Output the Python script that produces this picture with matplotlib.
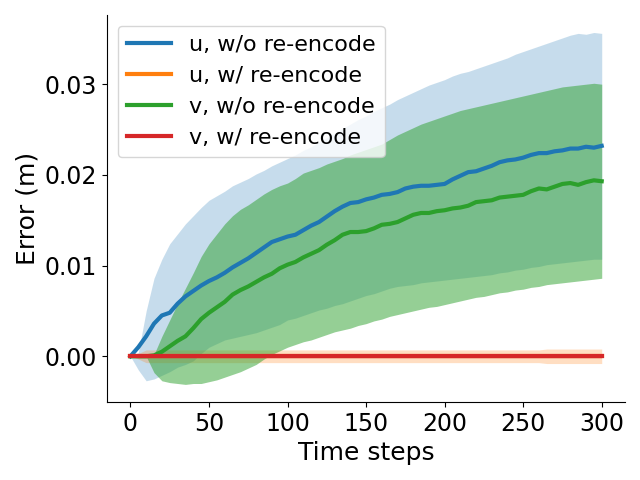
import matplotlib
matplotlib.use("Agg")
import matplotlib.pyplot as plt
import numpy as np

# time axis, one sample every 5 steps
steps = list(range(0, 301, 5))

# u, w/o re-encode (mean and band edges)
u_wo_mean = [0.0000, 0.0010, 0.0022, 0.0036, 0.0045, 0.0048, 0.0058, 0.0066, 0.0072, 0.0078,
             0.0083, 0.0087, 0.0092, 0.0098, 0.0103, 0.0108, 0.0114, 0.0120, 0.0126, 0.0129,
             0.0132, 0.0134, 0.0139, 0.0144, 0.0148, 0.0154, 0.0160, 0.0165, 0.0169, 0.0170,
             0.0173, 0.0175, 0.0178, 0.0179, 0.0181, 0.0185, 0.0187, 0.0188, 0.0188, 0.0189,
             0.0190, 0.0195, 0.0199, 0.0203, 0.0204, 0.0207, 0.0210, 0.0214, 0.0216, 0.0217,
             0.0219, 0.0222, 0.0224, 0.0224, 0.0226, 0.0227, 0.0229, 0.0229, 0.0231, 0.0230,
             0.0232]
u_wo_upper = [0.0000, 0.0004, 0.0050, 0.0086, 0.0107, 0.0124, 0.0135, 0.0146, 0.0155, 0.0164,
              0.0172, 0.0177, 0.0182, 0.0188, 0.0192, 0.0196, 0.0201, 0.0205, 0.0210, 0.0214,
              0.0218, 0.0222, 0.0227, 0.0231, 0.0236, 0.0241, 0.0246, 0.0251, 0.0256, 0.0261,
              0.0265, 0.0270, 0.0274, 0.0278, 0.0283, 0.0287, 0.0291, 0.0295, 0.0299, 0.0302,
              0.0305, 0.0309, 0.0312, 0.0314, 0.0317, 0.0320, 0.0323, 0.0326, 0.0329, 0.0333,
              0.0336, 0.0339, 0.0342, 0.0345, 0.0348, 0.0351, 0.0354, 0.0356, 0.0355, 0.0357,
              0.0356]
u_wo_lower = [0.0000, -0.0015, -0.0027, -0.0025, -0.0021, -0.0017, -0.0012, -0.0009, -0.0005, 0.0003,
              0.0010, 0.0014, 0.0018, 0.0020, 0.0022, 0.0024, 0.0026, 0.0029, 0.0032, 0.0035,
              0.0040, 0.0042, 0.0045, 0.0048, 0.0051, 0.0053, 0.0056, 0.0058, 0.0061, 0.0064,
              0.0067, 0.0069, 0.0072, 0.0075, 0.0077, 0.0078, 0.0079, 0.0081, 0.0082, 0.0083,
              0.0084, 0.0085, 0.0086, 0.0087, 0.0088, 0.0089, 0.0090, 0.0092, 0.0093, 0.0095,
              0.0096, 0.0098, 0.0099, 0.0101, 0.0102, 0.0103, 0.0104, 0.0105, 0.0106, 0.0107,
              0.0107]

# v, w/o re-encode
v_wo_mean = [0.0000, 0.0000, 0.0000, 0.0001, 0.0005, 0.0011, 0.0017, 0.0022, 0.0031, 0.0041,
             0.0048, 0.0054, 0.0060, 0.0068, 0.0073, 0.0077, 0.0082, 0.0087, 0.0091, 0.0097,
             0.0101, 0.0104, 0.0109, 0.0113, 0.0117, 0.0123, 0.0128, 0.0134, 0.0137, 0.0137,
             0.0138, 0.0141, 0.0145, 0.0146, 0.0148, 0.0152, 0.0156, 0.0158, 0.0158, 0.0160,
             0.0161, 0.0163, 0.0164, 0.0166, 0.0170, 0.0171, 0.0172, 0.0175, 0.0176, 0.0177,
             0.0178, 0.0182, 0.0185, 0.0184, 0.0187, 0.0190, 0.0191, 0.0189, 0.0192, 0.0194,
             0.0193]
v_wo_upper = [0.0000, 0.0000, 0.0000, 0.0002, 0.0022, 0.0040, 0.0058, 0.0075, 0.0092, 0.0110,
              0.0124, 0.0135, 0.0146, 0.0155, 0.0162, 0.0167, 0.0173, 0.0179, 0.0184, 0.0188,
              0.0191, 0.0196, 0.0202, 0.0205, 0.0208, 0.0212, 0.0215, 0.0218, 0.0222, 0.0225,
              0.0228, 0.0231, 0.0234, 0.0239, 0.0244, 0.0248, 0.0252, 0.0256, 0.0259, 0.0262,
              0.0265, 0.0268, 0.0271, 0.0273, 0.0275, 0.0277, 0.0279, 0.0281, 0.0283, 0.0285,
              0.0287, 0.0289, 0.0291, 0.0293, 0.0295, 0.0297, 0.0298, 0.0299, 0.0300, 0.0301,
              0.0300]
v_wo_lower = [0.0000, 0.0000, 0.0000, -0.0018, -0.0027, -0.0029, -0.0030, -0.0031, -0.0030, -0.0030,
              -0.0028, -0.0026, -0.0023, -0.0020, -0.0017, -0.0013, -0.0009, -0.0003, 0.0002, 0.0006,
              0.0010, 0.0013, 0.0016, 0.0018, 0.0021, 0.0024, 0.0027, 0.0029, 0.0031, 0.0034,
              0.0036, 0.0039, 0.0041, 0.0044, 0.0046, 0.0048, 0.0050, 0.0052, 0.0054, 0.0055,
              0.0057, 0.0059, 0.0061, 0.0063, 0.0065, 0.0066, 0.0068, 0.0070, 0.0071, 0.0073,
              0.0074, 0.0076, 0.0077, 0.0079, 0.0080, 0.0081, 0.0082, 0.0083, 0.0084, 0.0085,
              0.0086]

# with re-encode: error stays at zero, only a thin spread
u_w_mean = [0.0] * len(steps)
u_w_spread = [0.0, 0.0003] + [0.0007] * 51 + [0.0008] * 8
v_w_mean = [0.0] * len(steps)
v_w_spread = [0.0] + [0.0002] * 60

labels = ["u, w/o re-encode", "u, w/ re-encode", "v, w/o re-encode", "v, w/ re-encode"]

t = np.array(steps)
fig, ax = plt.subplots(figsize=(6.4, 4.8), dpi=100)

ax.plot(t, u_wo_mean, color="tab:blue", lw=3, label=labels[0])
ax.fill_between(t, u_wo_lower, u_wo_upper, color="tab:blue", alpha=0.25, lw=0)

um = np.array(u_w_mean)
us = np.array(u_w_spread)
ax.plot(t, um, color="tab:orange", lw=3, label=labels[1])
ax.fill_between(t, um - us, um + us, color="tab:orange", alpha=0.25, lw=0)

ax.plot(t, v_wo_mean, color="tab:green", lw=3, label=labels[2])
ax.fill_between(t, v_wo_lower, v_wo_upper, color="tab:green", alpha=0.5, lw=0)

vm = np.array(v_w_mean)
vs = np.array(v_w_spread)
ax.plot(t, vm, color="tab:red", lw=3, label=labels[3])
ax.fill_between(t, vm - vs, vm + vs, color="tab:red", alpha=0.25, lw=0)

ax.spines["top"].set_visible(False)
ax.spines["right"].set_visible(False)
ax.set_xticks([0, 50, 100, 150, 200, 250, 300])
ax.set_yticks([0.0, 0.01, 0.02, 0.03])
ax.tick_params(labelsize=17)
ax.set_xlabel("Time steps", fontsize=18)
ax.set_ylabel("Error (m)", fontsize=18)
ax.legend(loc="upper left", fontsize=16)

fig.subplots_adjust(left=0.167, right=0.977, top=0.969, bottom=0.1625)
fig.savefig("out.png")
